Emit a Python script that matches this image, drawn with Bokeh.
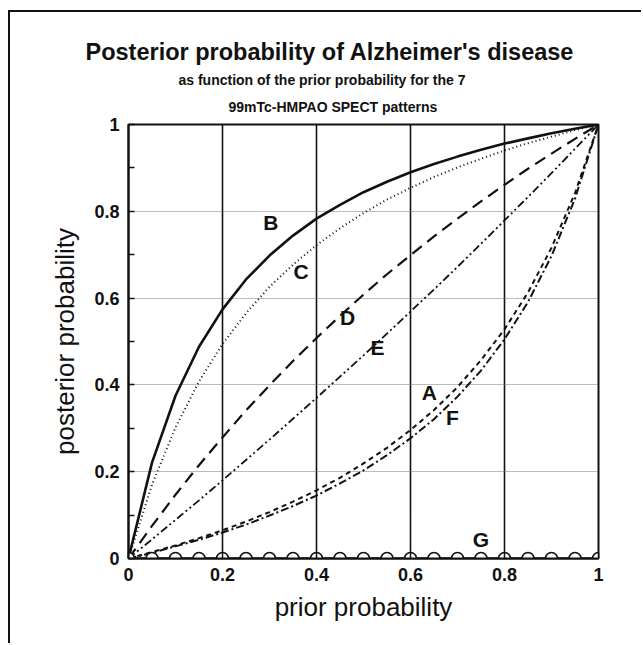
from bokeh.plotting import figure
from bokeh.models import FixedTicker, Label, Range1d, Title
from bokeh.embed import file_html
from bokeh.resources import INLINE

# ---- data ----
prior = [0.0, 0.05, 0.10, 0.15, 0.20, 0.25, 0.30, 0.35, 0.40, 0.45, 0.50,
         0.55, 0.60, 0.65, 0.70, 0.75, 0.80, 0.85, 0.90, 0.95, 1.0]
post_A = [0.0, 0.015, 0.030, 0.047, 0.065, 0.085, 0.107, 0.131, 0.157, 0.186, 0.219,
          0.255, 0.296, 0.342, 0.395, 0.457, 0.528, 0.613, 0.716, 0.842, 1.0]
post_B = [0.0, 0.221, 0.375, 0.488, 0.574, 0.643, 0.698, 0.744, 0.783, 0.815, 0.844,
          0.868, 0.890, 0.909, 0.926, 0.942, 0.956, 0.968, 0.980, 0.990, 1.0]
post_C = [0.0, 0.170, 0.302, 0.408, 0.494, 0.565, 0.626, 0.677, 0.722, 0.761, 0.796,
          0.827, 0.854, 0.879, 0.901, 0.921, 0.940, 0.957, 0.972, 0.987, 1.0]
post_D = [0.0, 0.075, 0.147, 0.215, 0.279, 0.341, 0.399, 0.455, 0.508, 0.559, 0.608,
          0.655, 0.699, 0.742, 0.783, 0.823, 0.861, 0.898, 0.933, 0.967, 1.0]
post_E = [0.0, 0.044, 0.089, 0.134, 0.180, 0.227, 0.274, 0.322, 0.370, 0.419, 0.468,
          0.518, 0.569, 0.620, 0.672, 0.725, 0.779, 0.833, 0.888, 0.944, 1.0]
post_F = [0.0, 0.013, 0.028, 0.043, 0.060, 0.078, 0.099, 0.121, 0.145, 0.173, 0.203,
          0.238, 0.277, 0.321, 0.373, 0.433, 0.505, 0.591, 0.697, 0.829, 1.0]
post_G = [0.0] * 21

curve_names = ["B", "C", "D", "E", "A", "F", "G"]
name_x = [0.303, 0.367, 0.466, 0.530, 0.640, 0.689, 0.750]
name_y = [0.774, 0.661, 0.555, 0.487, 0.382, 0.324, 0.044]

tick_values = [0, 0.2, 0.4, 0.6, 0.8, 1]
tick_labels = ["0", "0.2", "0.4", "0.6", "0.8", "1"]
minor_values = [0.1, 0.3, 0.5, 0.7, 0.9]
grid_values = [0.2, 0.4, 0.6, 0.8]

title_lines = ["Posterior probability of Alzheimer's disease",
               "as function of the prior probability for the 7",
               "99mTc-HMPAO SPECT patterns"]

FONT = "Liberation Sans"

p = figure(width=633, height=633, output_backend="svg", toolbar_location=None,
           x_range=Range1d(0, 1), y_range=Range1d(0, 1),
           min_border_left=118, min_border_right=45,
           min_border_top=112, min_border_bottom=87, title=None)
p.styles = {"border-left": "2px solid #111", "border-top": "2px solid #111",
            "margin-left": "8px", "margin-top": "10px"}

p.background_fill_color = "white"
p.border_fill_color = "white"
p.outline_line_color = "#111"
p.outline_line_width = 2
p.outline_line_alpha = 1

# grids
p.xgrid.ticker = FixedTicker(ticks=grid_values)
p.xgrid.grid_line_color = "#111"
p.xgrid.grid_line_width = 1.6
p.ygrid.ticker = FixedTicker(ticks=grid_values)
p.ygrid.grid_line_color = "#777"
p.ygrid.grid_line_width = 1
p.ygrid.grid_line_dash = "1 1"

# axes
for ax in (p.xaxis[0], p.yaxis[0]):
    ax.axis_line_color = "#111"
    ax.axis_line_width = 2
    ax.major_tick_line_color = "#111"
    ax.major_tick_line_width = 1.5
    ax.major_tick_in = 6
    ax.major_tick_out = 0
    ax.minor_tick_line_color = "#111"
    ax.minor_tick_line_width = 1.5
    ax.minor_tick_in = 6
    ax.minor_tick_out = 0
    ax.major_label_text_font = FONT
    ax.major_label_text_font_style = "bold"
    ax.major_label_text_font_size = "18px"
    ax.major_label_text_color = "#111"
    ax.axis_label_text_font = FONT
    ax.axis_label_text_font_style = "normal"
    ax.axis_label_text_font_size = "26px"
    ax.axis_label_text_color = "#111"
    ax.major_label_overrides = {v: s for v, s in zip(tick_values, tick_labels)}

p.xaxis.ticker = FixedTicker(ticks=tick_values)
p.yaxis.ticker = FixedTicker(ticks=tick_values, minor_ticks=minor_values)
p.xaxis.axis_label = "prior probability"
p.yaxis.axis_label = "posterior probability"
p.xaxis.major_label_standoff = 9
p.yaxis.major_label_standoff = 9
p.xaxis.axis_label_standoff = 8
p.yaxis.axis_label_standoff = 11

# curves
p.line(prior, post_B, line_color="#111", line_width=2.6)
p.line(prior, post_C, line_color="#111", line_width=2, line_dash="1 3")
p.line(prior, post_D, line_color="#111", line_width=2.2, line_dash="12 7")
p.line(prior, post_E, line_color="#111", line_width=1.8, line_dash="8 3 2 3 2 3")
p.line(prior, post_A, line_color="#111", line_width=2, line_dash="5 4")
p.line(prior, post_F, line_color="#111", line_width=2, line_dash="8 3 2 3")
p.line(prior, post_G, line_color="#111", line_width=2.2)
p.scatter(prior, post_G, marker="circle", size=12, fill_color="white",
          line_color="#111", line_width=1.7)

for name, lx, ly in zip(curve_names, name_x, name_y):
    p.add_layout(Label(x=lx, y=ly, text=name, text_font=FONT,
                       text_font_style="bold", text_font_size="21px",
                       text_color="#111", text_align="center",
                       text_baseline="middle"))

# title block (innermost added first)
title_sizes = ["23.5px", "14px", "14px"]
title_offsets = [-43, 50, 100]
title_standoffs = [10, 0, 19]
for txt, fs, off, so in reversed(list(zip(title_lines, title_sizes,
                                           title_offsets, title_standoffs))):
    p.add_layout(Title(text=txt, text_font=FONT, text_font_style="bold",
                       text_font_size=fs, text_color="#111", align="left",
                       offset=off, standoff=so), "above")

open("out.html", "w").write(file_html(p, INLINE))
